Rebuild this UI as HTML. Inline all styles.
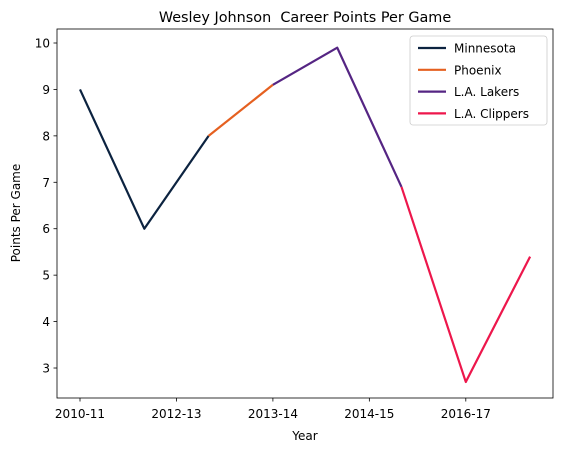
<!DOCTYPE html>
<html><head><meta charset="utf-8"><style>
body{margin:0;background:#fff;font-family:"DejaVu Sans","Liberation Sans",sans-serif;}
svg text{font-family:"DejaVu Sans","Liberation Sans",sans-serif;}
</style></head><body>
<svg id="chart" width="566" height="453" xmlns="http://www.w3.org/2000/svg">
<rect x="0" y="0" width="566" height="453" fill="#fff"/>
<text x="305" y="22" font-size="14.4" text-anchor="middle" style="white-space:pre" xml:space="preserve">Wesley Johnson  Career Points Per Game</text>
<g id="plot"></g>
<rect x="57" y="29" width="496" height="369" fill="none" stroke="#000" stroke-width="0.8"/>
<text x="305" y="440" font-size="12" text-anchor="middle">Year</text>
<text x="20" y="213" font-size="12" text-anchor="middle" transform="rotate(-90 20 213)">Points Per Game</text>
<g id="legend"></g>
</svg>
<script>
const xTickPos=[0,1.5,3,4.5,6];
const xTickLabels=["2010-11","2012-13","2013-14","2014-15","2016-17"];
const yTicks=[3,4,5,6,7,8,9,10];
const teams=["Minnesota","Phoenix","L.A. Lakers","L.A. Clippers"];
const colors=["#0c2340","#e56020","#552583","#ed174c"];
const minnesotaX=[0,1,2], minnesotaY=[9,6,8];
const phoenixX=[2,3], phoenixY=[8,9.1];
const lakersX=[3,4,5], lakersY=[9.1,9.9,6.9];
const clippersX=[5,6,7], clippersY=[6.9,2.7,5.4];
const seriesX=[minnesotaX,phoenixX,lakersX,clippersX];
const seriesY=[minnesotaY,phoenixY,lakersY,clippersY];
const NS="http://www.w3.org/2000/svg";
const xs=i=>80+i*64.3;
const ys=v=>43+(10-v)*46.43;
const plot=document.getElementById('plot');
function mk(t,a,p){const e=document.createElementNS(NS,t);for(const k in a)e.setAttribute(k,a[k]);(p||plot).appendChild(e);return e;}
yTicks.forEach(v=>{
 const l=mk('line',{x1:53.5,x2:57,y1:ys(v),y2:ys(v),stroke:'#000','stroke-width':0.8});
 
 
 const t=mk('text',{x:50,y:ys(v)+4.5,'font-size':12,'text-anchor':'end'});t.textContent=v;
 
 
});
xTickPos.forEach((p,i)=>{
 const l=mk('line',{x1:xs(p),x2:xs(p),y1:398,y2:401.5,stroke:'#000','stroke-width':0.8});
 
 
 const t=mk('text',{x:xs(p),y:418,'font-size':12,'text-anchor':'middle'});t.textContent=xTickLabels[i];
 
 
});
seriesX.forEach((X,s)=>{
 const pts=X.map((x,i)=>xs(x)+','+ys(seriesY[s][i])).join(' ');
 const pl=mk('polyline',{points:pts,fill:'none',stroke:colors[s],'stroke-width':2.2,'stroke-linejoin':'round'});
 
 
});
const lg=document.getElementById('legend');
const box=mk('rect',{x:410,y:36,width:137,height:89,rx:3,fill:'#fff',stroke:'#ccc','stroke-width':0.8},lg);


teams.forEach((n,i)=>{
 const y=48+i*21.8;
 const l=mk('line',{x1:418,x2:446,y1:y,y2:y,stroke:colors[i],'stroke-width':2.2},lg);
 
 
 const t=mk('text',{x:454,y:y+4.5,'font-size':12},lg);t.textContent=n;
 
 
});
</script>
</body></html>
